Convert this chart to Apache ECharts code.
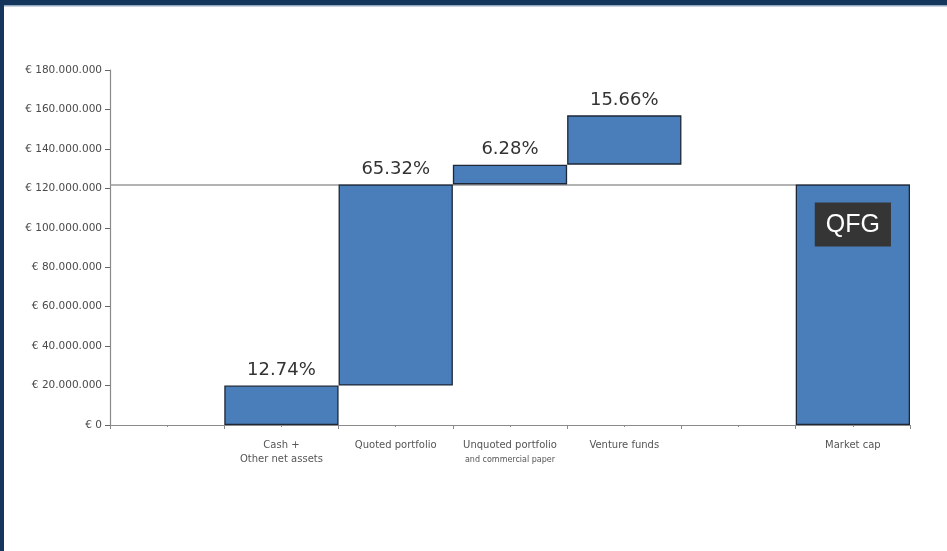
<!DOCTYPE html>
<html>
<head>
<meta charset="utf-8">
<script src="https://cdn.jsdelivr.net/npm/echarts@6/dist/echarts.min.js"></script>
<style>
  html, body { margin: 0; padding: 0; background: #fff; }
  #chart { width: 947px; height: 551px; }
</style>
</head>
<body>
<div id="chart"></div>
<script>
// categories along the bottom (empty slots are spacers)
const categories = ['', 'Cash +\nOther net assets', 'Quoted portfolio', 'Unquoted portfolio\nand commercial paper', 'Venture funds', '', 'Market cap'];
// waterfall steps in euro
const components = [20000000, 102000000, 10000000, 25000000];
const shares = ['12.74%', '65.32%', '6.28%', '15.66%'];
const marketCap = 122000000;
const yTicks = { min: 0, max: 180000000, step: 20000000 };

// build the stacked base + visible arrays
let running = 0;
const base = ['-'];
const steps = ['-'];
components.forEach((v, i) => {
  base.push(running);
  steps.push({ value: v, label: { show: true, formatter: shares[i] } });
  running += v;
});
base.push('-', 0);
steps.push('-', {
  value: marketCap,
  label: {
    show           : true,
    position       : 'insideTop',
    distance       : 18,
    formatter      : 'QFG',
    color          : '#fff',
    fontFamily     : 'Liberation Sans',
    fontSize       : 25,
    backgroundColor: '#353535',
    padding        : [10, 11, 9, 11]
  }
});

const euro = v => '€ ' + String(v).replace(/\B(?=(\d{3})+(?!\d))/g, '.');

let chart = echarts.init(document.getElementById('chart'));

chart.setOption({
  animation: false,
  graphic  : [
    { type: 'rect', shape: { x: 0, y: 0, width: 947, height: 5 }, style: { fill: '#14355c' } },
    { type: 'rect', shape: { x: 4, y: 5, width: 943, height: 1.5 }, style: { fill: '#93a7c0' } },
    { type: 'rect', shape: { x: 0, y: 0, width: 4, height: 551 }, style: { fill: '#14355c' } }
  ],
  grid     : { left: 110, right: 37, top: 70, bottom: 126 },
  xAxis    : [
    {
      type       : 'category',
      data       : categories,
      position   : 'bottom',
      axisLine   : { lineStyle: { color: '#8a8a8a', width: 1.2 } },
      axisTick   : { show: true, interval: 0, length: 4, lineStyle: { color: '#8a8a8a' } },
      axisLabel  : {
        interval  : 0,
        margin    : 13,
        color     : '#555',
        fontFamily: 'DejaVu Sans',
        fontSize  : 10,
        lineHeight: 14,
        formatter : v => v.replace('and commercial paper', '{s|and commercial paper}'),
        rich      : { s: { fontSize: 8, lineHeight: 16, color: '#555', fontFamily: 'DejaVu Sans' } }
      }
    },
    {
      type     : 'category',
      data     : categories,
      position : 'bottom',
      axisLine : { show: false },
      axisLabel: { show: false },
      axisTick : { show: true, alignWithLabel: true, interval: 0, length: 2, lineStyle: { color: '#8a8a8a' } }
    }
  ],
  yAxis    : {
    type     : 'value',
    min      : yTicks.min,
    max      : yTicks.max,
    interval : yTicks.step,
    splitLine: { show: false },
    axisLine : { show: true, lineStyle: { color: '#8a8a8a', width: 1.2 } },
    axisTick : { show: true, length: 5, lineStyle: { color: '#666' } },
    axisLabel: { margin: 8, color: '#4a4a4a', fontFamily: 'DejaVu Sans', fontSize: 10.5, formatter: euro }
  },
  series   : [
    {
      type          : 'bar',
      stack         : 'w',
      data          : base,
      silent        : true,
      barCategoryGap: '0%',
      itemStyle     : { color: 'transparent' },
      markLine      : {
        z        : 1,
        silent   : true,
        symbol   : 'none',
        label    : { show: false },
        lineStyle: { color: '#9a9a9a', width: 1.5, type: 'solid' },
        data     : [{ yAxis: marketCap }]
      }
    },
    {
      type          : 'bar',
      stack         : 'w',
      data          : steps,
      barCategoryGap: '0%',
      z             : 3,
      itemStyle     : { color: '#4a7ebb', borderColor: '#1d2736', borderWidth: 1.3 },
      label         : {
        position  : 'top',
        distance  : 6,
        color     : '#333',
        fontFamily: 'DejaVu Sans',
        fontSize  : 18
      }
    }
  ]
});
</script>
</body>
</html>
